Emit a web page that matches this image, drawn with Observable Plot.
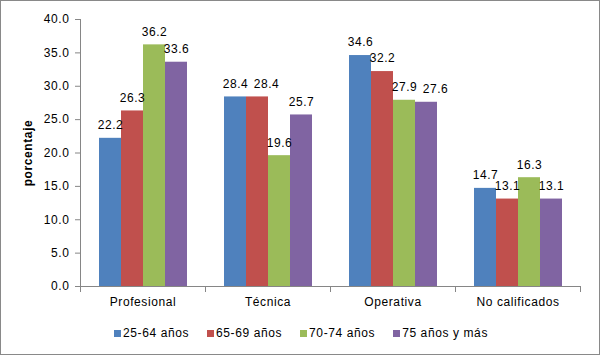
<!DOCTYPE html>
<html><head><meta charset="utf-8">
<script src="https://cdn.jsdelivr.net/npm/d3@7"></script>
<script src="https://cdn.jsdelivr.net/npm/@observablehq/plot@0.6"></script>
<style>
body{margin:0;background:#fff;}
#wrap{position:relative;width:600px;height:355px;box-sizing:border-box;border:1px solid #898989;background:#fff;font-family:"Liberation Sans",Arial,sans-serif;overflow:hidden;}
#legend{position:absolute;left:2px;right:0;top:324px;display:flex;justify-content:center;gap:18px;font-size:12px;line-height:16px;color:#000;letter-spacing:0.6px;}
.item{display:flex;align-items:center;}
.sw{width:7px;height:7px;margin-right:2px;}
#chart svg text{letter-spacing:0.6px;}
g[aria-label="y-axis label"] text{font-weight:bold;letter-spacing:0;}
</style></head>
<body>
<div id="wrap"><div id="chart"></div><div id="legend"></div></div>
<script>
const categories = ["Profesional", "Técnica", "Operativa", "No calificados"];
const series = ["25-64 años", "65-69 años", "70-74 años", "75 años y más"];
const v25_64 = [22.2, 28.4, 34.6, 14.7];
const v65_69 = [26.3, 28.4, 32.2, 13.1];
const v70_74 = [36.2, 19.6, 27.9, 16.3];
const v75mas = [33.6, 25.7, 27.6, 13.1];
const yTicks = [0, 5, 10, 15, 20, 25, 30, 35, 40];
const colors = ["#4F81BD", "#C0504D", "#9BBB59", "#8064A2"];
const axisColor = "#868686";

const valueLists = [v25_64, v65_69, v70_74, v75mas];
const rows = [];
categories.forEach((c, i) => series.forEach((s, j) => {
  const v = valueLists[j][i];
  // a label that would collide with its left neighbour's label (similar height) is nudged right
  const crowded = j > 0 && Math.abs(v - valueLists[j - 1][i]) < 1;
  rows.push({category: c, series: s, value: v, crowded});
}));

const W = 598, H = 315, mL = 78, mR = 18, mT = 18, mB = 30;
const labelOpts = {fx: "category", x: "series", y: "value", text: d => d.value.toFixed(1), dy: -13, fill: "#000"};
try {
const chart = Plot.plot({
  width: W, height: H, marginLeft: mL, marginRight: mR, marginTop: mT, marginBottom: mB,
  style: {fontFamily: "Liberation Sans, Arial, sans-serif", fontSize: "12px", color: "#000", background: "transparent", overflow: "visible"},
  fx: {domain: categories, padding: 0},
  x: {domain: series, paddingInner: 0, paddingOuter: 0.78, axis: null},
  y: {domain: [0, 40]},
  color: {domain: series, range: colors},
  marks: [
    Plot.barY(rows, {fx: "category", x: "series", y: "value", fill: "series"}),
    Plot.ruleY([0], {stroke: axisColor}),
    Plot.frame({anchor: "left", facetAnchor: "left", stroke: axisColor, insetBottom: -5}),
    Plot.frame({anchor: "right", stroke: axisColor, insetTop: H - mT - mB, insetBottom: -5}),
    Plot.axisY({ticks: yTicks, tickFormat: d => d.toFixed(1), tickSize: 5, tickPadding: 6, stroke: axisColor, fill: "#000", label: "porcentaje", labelAnchor: "center", labelArrow: "none", labelOffset: 57}),
    Plot.axisFx({anchor: "bottom", tickSize: 0, tickPadding: 11, label: null, fill: "#000"}),
    Plot.text(rows, {...labelOpts, filter: d => !d.crowded}),
    Plot.text(rows, {...labelOpts, filter: d => d.crowded, dx: 9})
  ]
});
document.getElementById("chart").appendChild(chart);
} catch (e) { document.getElementById("chart").textContent = e.message; }
const lg = document.getElementById("legend");
series.forEach((s, j) => {
  const it = document.createElement("div"); it.className = "item";
  const sw = document.createElement("span"); sw.className = "sw"; sw.style.background = colors[j];
  const tx = document.createElement("span"); tx.textContent = s;
  it.appendChild(sw); it.appendChild(tx); lg.appendChild(it);
});
</script>
</body></html>
